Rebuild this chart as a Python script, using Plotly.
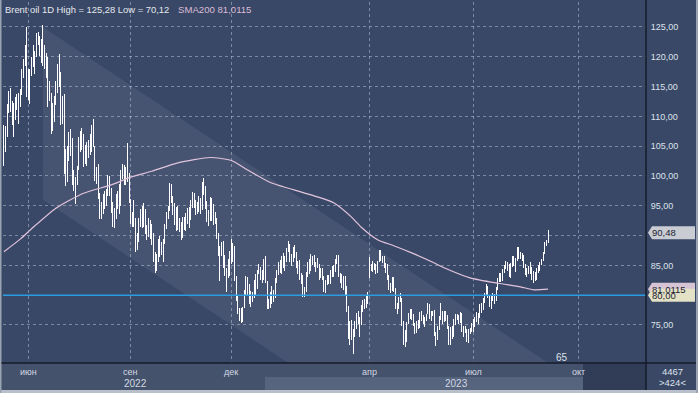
import plotly.graph_objects as go
import pandas as pd

# ---------------- data ----------------
HOLIDAYS = ["2022-06-20", "2022-07-04", "2022-08-29", "2022-09-05", "2022-09-19",
            "2022-11-24", "2022-12-26", "2023-01-02", "2023-04-07"]
dates = [d.strftime("%Y-%m-%d") for d in pd.bdate_range("2022-05-11", "2023-09-05")
         if d.strftime("%Y-%m-%d") not in HOLIDAYS]

highs = [
    # May 2022
    108.6, 108.4, 112.0, 114.2, 114.8, 112.6, 112.2, 113.3, 113.8, 114.0, 114.6, 117.9, 119.7, 121.9, 125.0,
    # Jun 2022
    118.0, 118.0, 120.0, 121.9, 121.0, 124.0, 124.1, 123.5, 123.0, 125.28, 122.0, 120.7, 119.9, 116.0, 114.0, 112.2, 113.5, 116.0, 118.8, 120.5, 117.5,
    # Jul 2022
    113.5, 113.7, 104.5, 105.0, 107.3, 107.9, 106.3, 101.0, 99.8, 101.6, 106.5, 107.6, 108.0, 107.0, 105.2, 105.7, 106.0, 107.0, 108.5, 109.5,
    # Aug 2022
    105.0, 101.5, 102.0, 97.1, 95.6, 97.0, 97.5, 97.8, 100.1, 100.0, 97.9, 95.7, 94.7, 97.0, 97.4, 98.6, 101.0, 102.0, 101.8, 101.5, 105.5, 100.5,
    # Sep 2022
    96.0, 94.0, 96.0, 93.0, 90.5, 93.0, 94.5, 95.0, 95.5, 94.4, 91.7, 93.0, 92.6, 91.9, 90.5, 87.3, 86.9, 89.5, 89.9, 89.0,
    # Oct 2022
    89.5, 92.0, 94.0, 95.0, 98.8, 98.7, 96.7, 95.5, 94.8, 95.0, 93.0, 92.2, 93.1, 93.2, 93.8, 94.6, 94.8, 96.0, 97.3, 97.1, 96.0,
    # Nov 2022
    95.6, 96.7, 96.3, 99.0, 99.6, 98.3, 95.8, 94.3, 96.4, 96.3, 95.3, 94.0, 93.0, 90.5, 88.3, 89.0, 89.1, 86.7, 84.6, 86.0, 87.4,
    # Dec 2022
    89.4, 88.7, 88.3, 83.3, 80.0, 77.8, 77.8, 78.1, 80.9, 83.3, 83.0, 81.8, 80.7, 80.5, 82.6, 83.6, 84.2, 85.3, 84.8, 84.2, 86.0,
    # Jan 2023
    86.6, 82.3, 79.3, 80.5, 81.5, 80.8, 82.8, 84.3, 85.5, 85.9, 86.5, 87.0, 86.6, 87.9, 89.1, 88.6, 86.9, 88.0, 88.4, 87.2, 85.7,
    # Feb 2023
    85.9, 83.8, 83.4, 81.3, 83.9, 85.5, 86.0, 86.9, 86.6, 86.7, 85.5, 86.2, 85.2, 84.5, 84.6, 83.3, 82.6, 83.4, 83.4, 84.3,
    # Mar 2023
    84.9, 85.0, 86.0, 86.7, 86.7, 83.8, 83.5, 83.3, 83.3, 81.5, 78.2, 75.6, 75.9, 74.4, 75.6, 77.0, 77.3, 76.4, 78.3, 79.2, 79.3, 79.8, 80.5,
    # Apr 2023
    86.4, 85.3, 85.8, 85.4, 85.2, 85.7, 87.5, 87.5, 86.6, 86.5, 85.4, 85.2, 83.4, 82.0, 83.0, 83.1, 81.2, 78.7, 79.7,
    # May 2023
    80.4, 79.6, 75.7, 74.2, 75.5, 77.0, 77.7, 77.7, 76.9, 75.4, 75.7, 75.9, 77.1, 77.3, 76.6, 76.4, 76.9, 78.7, 78.4, 77.4, 77.4, 77.5, 73.9,
    # Jun 2023
    74.8, 76.5, 78.7, 77.3, 77.4, 77.3, 76.6, 74.9, 74.6, 74.8, 76.0, 76.9, 76.9, 76.6, 77.2, 77.0, 74.9, 74.9, 74.4, 74.3, 74.5, 75.4,
    # Jul 2023
    76.0, 76.4, 77.1, 77.0, 78.6, 78.7, 79.6, 80.4, 81.8, 81.5, 80.0, 79.9, 80.3, 80.2, 81.3, 82.9, 83.6, 83.7, 84.4, 85.0, 85.8,
    # Aug 2023
    85.6, 85.3, 85.4, 86.6, 86.5, 86.3, 88.1, 88.1, 87.3, 87.1, 86.8, 85.3, 84.5, 84.9, 85.5, 84.7, 84.0, 83.9, 84.6, 85.0, 85.6, 86.1, 87.3,
    # Sep 2023
    89.0, 89.3, 91.0,
]

lows = [
    101.6, 104.0, 106.5, 110.5, 110.8, 108.5, 106.5, 109.4, 111.0, 108.8, 111.5, 113.6, 116.4, 118.5, 113.2,
    112.7, 112.0, 116.8, 118.3, 117.1, 120.0, 121.9, 120.1, 119.0, 118.5, 117.9, 116.5, 111.5, 112.5, 107.1, 107.6, 109.0, 111.9, 114.0, 115.0, 108.5,
    108.8, 100.3, 98.3, 99.0, 102.5, 103.3, 98.5, 97.5, 95.3, 98.5, 101.0, 104.0, 104.4, 101.5, 102.0, 101.7, 103.0, 103.5, 104.0, 104.8,
    99.1, 98.6, 96.2, 92.8, 92.8, 93.6, 94.4, 94.9, 96.6, 96.7, 93.8, 91.5, 91.3, 92.8, 94.4, 93.6, 95.0, 99.5, 98.5, 98.5, 99.0, 95.5,
    92.0, 91.5, 91.5, 87.3, 87.5, 89.0, 91.5, 91.3, 91.5, 90.2, 89.3, 89.8, 89.5, 88.5, 85.5, 83.7, 84.0, 85.6, 86.4, 86.8,
    85.6, 88.6, 91.1, 92.8, 94.2, 95.5, 93.5, 91.7, 90.8, 91.0, 90.6, 89.3, 89.6, 90.9, 90.7, 91.9, 91.2, 92.6, 94.7, 94.7, 93.4,
    93.6, 94.0, 93.7, 94.3, 96.8, 94.5, 92.2, 91.6, 92.5, 92.5, 91.7, 91.9, 89.4, 86.6, 82.3, 86.6, 84.5, 83.2, 80.6, 82.8, 83.3,
    85.2, 85.6, 82.4, 79.0, 76.8, 75.6, 75.3, 75.5, 77.9, 80.0, 80.1, 78.5, 78.0, 78.8, 79.5, 80.1, 81.0, 83.5, 82.6, 82.0, 82.5,
    82.0, 77.6, 77.6, 77.9, 78.6, 78.9, 79.6, 82.0, 83.4, 83.7, 83.5, 84.5, 84.0, 85.5, 87.3, 85.6, 84.9, 85.5, 86.3, 84.6, 83.6,
    82.6, 81.9, 79.7, 79.7, 80.6, 83.0, 83.6, 84.0, 85.0, 84.7, 83.9, 84.6, 82.5, 82.8, 82.5, 80.5, 80.4, 81.7, 81.8, 81.9,
    83.1, 83.1, 83.9, 85.3, 83.0, 82.0, 81.2, 80.9, 79.8, 77.2, 72.6, 71.7, 72.5, 70.12, 72.9, 74.4, 75.1, 73.0, 75.0, 77.1, 77.7, 77.9, 78.5,
    82.8, 84.0, 83.9, 84.2, 83.5, 83.8, 85.5, 85.8, 85.4, 84.5, 83.8, 82.6, 80.9, 80.3, 80.7, 80.5, 77.7, 76.9, 77.7,
    78.8, 74.9, 71.7, 71.3, 72.2, 75.1, 76.0, 75.8, 74.9, 73.5, 73.7, 74.3, 74.5, 75.6, 75.2, 74.6, 75.7, 76.8, 76.0, 75.6, 76.5, 73.1, 71.4,
    72.5, 74.1, 75.9, 75.2, 75.5, 75.7, 74.3, 71.6, 71.8, 72.7, 72.9, 75.0, 75.9, 75.2, 75.4, 73.8, 72.9, 73.7, 72.1, 71.9, 73.5, 73.8,
    73.8, 74.7, 75.5, 75.1, 76.1, 77.0, 77.5, 78.7, 79.9, 79.6, 78.0, 77.6, 79.1, 78.5, 79.1, 80.9, 82.2, 82.2, 82.3, 83.7, 84.4,
    84.0, 83.0, 82.8, 84.8, 84.9, 83.9, 85.7, 86.1, 86.0, 85.7, 84.6, 83.4, 83.0, 83.5, 83.6, 82.6, 82.0, 82.3, 82.6, 83.8, 84.1, 85.0, 85.7,
    86.9, 88.2, 88.8,
]

closes = [
    107.5, 107.5, 111.6, 114.2, 111.9, 109.1, 112.0, 112.6, 113.4, 113.6, 114.0, 117.4, 119.4, 121.7, 116.0,
    116.3, 117.6, 119.7, 119.5, 120.6, 123.6, 123.1, 122.0, 122.3, 121.2, 118.5, 119.8, 113.1, 114.7, 111.7, 110.1, 113.1, 115.1, 118.0, 116.3, 109.0,
    111.6, 102.8, 100.7, 104.7, 107.0, 107.1, 99.5, 99.6, 99.1, 101.2, 106.3, 107.4, 106.9, 103.9, 103.2, 105.2, 104.4, 106.6, 107.1, 109.0,
    100.0, 100.5, 96.8, 94.1, 94.9, 96.7, 96.3, 97.4, 99.6, 98.2, 95.1, 92.3, 93.7, 96.6, 96.7, 96.5, 100.2, 101.2, 99.3, 101.0, 99.3, 96.5,
    92.4, 93.0, 92.8, 88.0, 89.2, 92.8, 94.0, 93.2, 94.1, 90.8, 91.4, 90.6, 89.8, 90.5, 86.2, 84.1, 86.3, 89.3, 88.5, 88.0,
    88.9, 91.8, 93.4, 94.4, 97.9, 96.2, 94.3, 92.5, 94.6, 91.6, 91.6, 90.0, 92.4, 92.4, 93.5, 93.3, 93.5, 95.7, 97.0, 95.8, 94.8,
    94.7, 96.2, 94.7, 98.6, 98.0, 95.4, 92.7, 94.0, 96.0, 93.1, 93.9, 92.9, 89.8, 87.6, 87.5, 88.4, 85.4, 83.6, 83.2, 83.0, 85.4,
    86.9, 85.6, 82.7, 79.4, 77.2, 76.2, 76.1, 78.0, 80.7, 82.7, 81.2, 79.0, 79.8, 80.0, 82.2, 81.0, 83.9, 84.3, 83.3, 83.5, 85.9,
    82.1, 77.8, 78.7, 78.6, 79.7, 80.1, 82.7, 84.0, 85.3, 84.5, 86.0, 85.0, 86.2, 87.6, 88.2, 86.1, 86.1, 87.5, 86.7, 84.9, 84.5,
    82.8, 82.2, 79.9, 81.0, 83.7, 85.1, 84.5, 86.4, 86.6, 85.6, 85.4, 85.1, 83.0, 84.1, 83.1, 80.6, 82.2, 83.2, 82.5, 83.9,
    84.3, 84.8, 85.8, 86.2, 83.3, 82.7, 81.6, 82.8, 80.8, 77.5, 73.7, 74.7, 73.0, 73.8, 75.3, 76.7, 75.9, 75.0, 78.1, 78.7, 78.3, 79.3, 79.8,
    84.9, 84.9, 85.0, 85.1, 84.2, 85.6, 87.3, 86.1, 86.3, 84.8, 84.8, 83.1, 81.1, 81.7, 82.7, 80.8, 77.7, 78.4, 79.5,
    79.3, 75.3, 72.3, 72.5, 75.3, 77.0, 77.4, 76.4, 75.0, 74.2, 75.2, 74.9, 77.0, 76.0, 75.6, 76.0, 76.8, 78.4, 76.3, 77.0, 77.1, 73.5, 72.7,
    74.3, 76.1, 76.7, 76.3, 77.0, 76.0, 74.8, 71.8, 74.3, 73.2, 75.7, 76.6, 76.1, 75.9, 77.1, 74.1, 73.9, 74.2, 72.3, 74.0, 74.3, 74.9,
    74.7, 76.3, 76.7, 76.5, 78.5, 77.7, 79.4, 80.1, 81.4, 79.9, 78.5, 79.6, 79.5, 79.6, 81.1, 82.7, 83.6, 82.9, 84.2, 85.0, 85.6,
    84.9, 83.2, 85.1, 86.2, 85.3, 86.2, 87.6, 86.4, 86.8, 86.2, 84.9, 83.5, 84.1, 84.8, 84.5, 82.6, 83.2, 83.4, 84.5, 84.4, 85.5, 85.9, 86.9,
    88.6, 89.0, 90.48,
]
FIRST_OPEN = 102.5

# SMA200
sma_dates = ["2022-05-11", "2022-05-25", "2022-06-06", "2022-06-27", "2022-07-21", "2022-08-15",
             "2022-09-01", "2022-09-22", "2022-10-14", "2022-11-11", "2022-12-01", "2022-12-15",
             "2023-01-06", "2023-01-18", "2023-02-16", "2023-03-02", "2023-03-17", "2023-03-27",
             "2023-04-11", "2023-04-25", "2023-05-10", "2023-05-30", "2023-06-07", "2023-06-29",
             "2023-07-24", "2023-08-11", "2023-08-23", "2023-09-05"]
sma_vals = [87.3, 89.4, 91.4, 94.6, 97.1, 98.5, 99.8, 100.8, 102.2, 103.1, 102.6, 101.0,
            98.9, 98.2, 96.5, 95.5, 93.1, 91.4, 89.3, 88.3, 87.1, 85.4, 84.6, 82.9,
            82.0, 81.4, 80.9, 81.0]
SMA_LAST = 81.0115

# drawn channel (start / end points)
CH_DATES = ["2022-06-14", "2023-10-10"]
CH_TOP = [125.0, 64.1]
CH_BOT = [96.0, 35.1]

LEVEL = 80.0  # horizontal level line

month_ticks = ["2022-06-01", "2022-09-01", "2022-12-01", "2023-04-03", "2023-07-03", "2023-10-02"]
month_text = ["июн", "сен", "дек", "апр", "июл", "окт"]
year_text = ["2022", "2023"]

assert len(dates) == len(highs) == len(lows) == len(closes), (len(dates), len(highs), len(lows), len(closes))

opens = []
prev = FIRST_OPEN
for h, l, c in zip(highs, lows, closes):
    opens.append(min(max(prev, l), h))
    prev = c

# ---------------- figure ----------------
W, H = 698, 393
ML, MR, MT, MB = 3, 52, 2, 30
PW, PH = W - ML - MR, H - MT - MB
YMIN, YMAX = 68.62, 129.19
X_RANGE = ["2022-05-10 09:36:00", "2023-11-28 07:12:00"]

BG = "#394867"
FONT = "Liberation Sans, Arial, sans-serif"
TXT = "#dde2ea"


def px(x):  # pixel -> paper x
    return (x - ML) / PW


def py(y):  # pixel -> paper y
    return (H - MB - y) / PH


def pp(price):  # price -> paper y
    return (price - YMIN) / (YMAX - YMIN)


fig = go.Figure()

# channel band
fig.add_trace(go.Scatter(
    x=[CH_DATES[0], CH_DATES[1], CH_DATES[1], CH_DATES[0], CH_DATES[0]],
    y=[CH_TOP[0], CH_TOP[1], CH_BOT[1], CH_BOT[0], CH_TOP[0]],
    fill="toself", fillcolor="rgba(255,255,255,0.065)", mode="lines",
    line=dict(width=0, color="rgba(0,0,0,0)"), hoverinfo="skip", showlegend=False))

# SMA200
fig.add_trace(go.Scatter(
    x=sma_dates, y=sma_vals, mode="lines",
    line=dict(color="#e2c4dc", width=1.2, shape="spline", smoothing=0.6),
    hoverinfo="skip", showlegend=False))

# price bars
fig.add_trace(go.Ohlc(
    x=dates, open=opens, high=highs, low=lows, close=closes,
    increasing=dict(line=dict(color="#ffffff", width=1)),
    decreasing=dict(line=dict(color="#ffffff", width=1)),
    tickwidth=0.15, hoverinfo="skip", showlegend=False))

yticks = list(range(75, 130, 5))
ytext = ["" if v in (80, 90) else f"{v:.2f}".replace(".", ",") for v in yticks]

fig.update_layout(
    width=W, height=H, margin=dict(l=ML, r=MR, t=MT, b=MB),
    paper_bgcolor=BG, plot_bgcolor=BG,
    font=dict(family=FONT, size=9, color=TXT),
    showlegend=False, hovermode=False,
    xaxis=dict(
        type="date", range=X_RANGE,
        rangebreaks=[dict(bounds=["sat", "mon"]), dict(values=HOLIDAYS)],
        rangeslider=dict(visible=False),
        tickvals=month_ticks, showticklabels=False, ticks="",
        showgrid=True, gridcolor="rgba(190,202,222,0.5)", griddash="3px,3px", gridwidth=1,
        zeroline=False, showline=False, fixedrange=True),
    yaxis=dict(
        side="right", range=[YMIN, YMAX],
        tickvals=yticks, ticktext=ytext, ticks="outside", ticklen=2, tickcolor=BG,
        tickfont=dict(family=FONT, size=9, color=TXT),
        showgrid=True, gridcolor="rgba(190,202,222,0.5)", griddash="3px,3px", gridwidth=1,
        zeroline=False, showline=False, fixedrange=True),
)

shapes = []
# level line
shapes.append(dict(type="line", xref="paper", yref="y", x0=0, x1=1, y0=LEVEL, y1=LEVEL,
                   line=dict(color="#2b9be2", width=1.5), layer="above"))
# bottom axis strip
shapes.append(dict(type="rect", xref="paper", yref="paper", x0=px(0), x1=px(583), y0=py(390), y1=py(363),
                   fillcolor="#44526c", line=dict(width=0), layer="above"))
shapes.append(dict(type="rect", xref="paper", yref="paper", x0=px(265), x1=px(583), y0=py(390), y1=py(377),
                   fillcolor="#56647e", line=dict(width=0), layer="above"))
shapes.append(dict(type="rect", xref="paper", yref="paper", x0=px(583), x1=px(646), y0=py(390), y1=py(363),
                   fillcolor="#313d56", line=dict(width=0), layer="above"))
shapes.append(dict(type="rect", xref="paper", yref="paper", x0=px(646), x1=px(698), y0=py(390), y1=py(363),
                   fillcolor="#3a4866", line=dict(width=0), layer="above"))
# outer light frame
shapes.append(dict(type="rect", xref="paper", yref="paper", x0=px(0), x1=px(698), y0=py(393), y1=py(390),
                   fillcolor="#b9c0cb", line=dict(width=0), layer="above"))
shapes.append(dict(type="rect", xref="paper", yref="paper", x0=px(0), x1=px(1.5), y0=py(393), y1=py(0),
                   fillcolor="#9aa3b2", line=dict(width=0), layer="above"))
shapes.append(dict(type="rect", xref="paper", yref="paper", x0=px(696), x1=px(698), y0=py(393), y1=py(0),
                   fillcolor="#9aa3b2", line=dict(width=0), layer="above"))
# dark separators
shapes.append(dict(type="line", xref="paper", yref="paper", x0=1, x1=1, y0=py(390), y1=py(0),
                   line=dict(color="#141b2a", width=1.5), layer="above"))
shapes.append(dict(type="line", xref="paper", yref="paper", x0=px(1.5), x1=px(696), y0=0, y1=0,
                   line=dict(color="#141b2a", width=1.5), layer="above"))


def tag(price, color):
    yc = pp(price)
    dy = 6.5 / PH
    xt, xb, xr = px(648), px(652), px(695)
    return dict(type="path", xref="paper", yref="paper",
                path=f"M {xt},{yc} L {xb},{yc + dy} L {xr},{yc + dy} L {xr},{yc - dy} L {xb},{yc - dy} Z",
                fillcolor=color, line=dict(width=0), layer="above")


last_price = closes[-1]
shapes.append(tag(last_price, "#c9ccd3"))
shapes.append(tag(SMA_LAST, "#d6c3d3"))
shapes.append(tag(LEVEL, "#e3e1c6"))
fig.update_layout(shapes=shapes)

ann = []


def fmt(v, n=2):
    return f"{v:.{n}f}".replace(".", ",")


for price, text in [(last_price, fmt(last_price)), (SMA_LAST, fmt(SMA_LAST, 4)), (LEVEL, fmt(LEVEL))]:
    ann.append(dict(xref="paper", yref="paper", x=px(650), y=pp(price), text=text, showarrow=False,
                    xanchor="left", yanchor="middle", font=dict(family=FONT, size=9.5, color="#1e2430")))

# titles
ann.append(dict(xref="paper", yref="paper", x=px(3), y=py(9),
                text=f"Brent oil 1D High = {fmt(max(highs))} Low = {fmt(min(lows))}",
                showarrow=False, xanchor="left", yanchor="middle",
                font=dict(family=FONT, size=9.4, color="#e6e9ee")))
ann.append(dict(xref="paper", yref="paper", x=px(176), y=py(9), text=f"SMA200 {fmt(SMA_LAST, 4)}",
                showarrow=False, xanchor="left", yanchor="middle",
                font=dict(family=FONT, size=9.6, color="#dcbcd6")))
# month labels and years
for d, t in zip(month_ticks, month_text):
    ann.append(dict(xref="x", yref="paper", x=d, y=py(371.5), text=t, showarrow=False,
                    xanchor="center", yanchor="middle", font=dict(family=FONT, size=9, color="#d3d9e3")))
for xp, t in zip([135, 456], year_text):
    ann.append(dict(xref="paper", yref="paper", x=px(xp), y=py(383.5), text=t, showarrow=False,
                    xanchor="center", yanchor="middle", font=dict(family=FONT, size=10, color="#d3d9e3")))
# misc labels
ann.append(dict(xref="paper", yref="paper", x=px(562), y=py(357), text="65", showarrow=False,
                xanchor="center", yanchor="middle", font=dict(family=FONT, size=10, color=TXT)))
ann.append(dict(xref="paper", yref="paper", x=px(672), y=py(371), text="4467", showarrow=False,
                xanchor="center", yanchor="middle", font=dict(family=FONT, size=9.5, color=TXT)))
ann.append(dict(xref="paper", yref="paper", x=px(672), y=py(383), text="&gt;424&lt;", showarrow=False,
                xanchor="center", yanchor="middle", font=dict(family=FONT, size=9.5, color=TXT)))
fig.update_layout(annotations=ann)

fig.write_html(
    "out.html",
    config={"displayModeBar": False, "staticPlot": True},
    post_script=(
        "document.body.style.margin='0';document.body.style.padding='0';"
        "document.body.style.overflow='hidden';"
        "document.querySelectorAll('.ohlclayer path').forEach(function(p){p.style.shapeRendering='crispEdges';});"
    ),
)
